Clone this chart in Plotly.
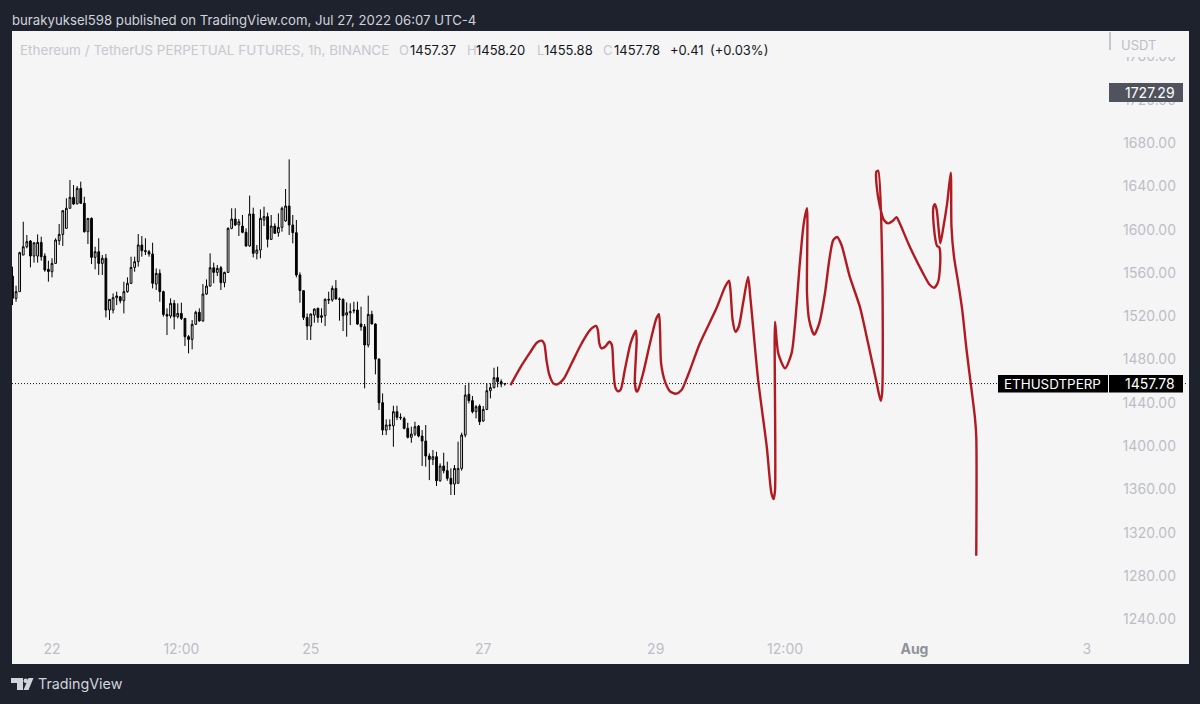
"""ETHUSDT 1h chart with a hand drawn projection, TradingView look."""
import plotly.graph_objects as go

C_FRAME = "#1e222d"
C_PANEL = "#f5f5f5"
C_AXIS = "#bcbec5"
C_RED = "#b01b22"
FONT = "Inter, Roboto, sans-serif"

# hours since Jul 22 00:00
bar_hours = list(range(-11, 127))
opens = [
    1557.1, 1536.5, 1542.7, 1576.5, 1584.2, 1589.5, 1575.6, 1575.6, 1588.2, 1575.6,
    1563.3, 1561.1, 1568.8, 1589.8, 1595.6, 1601.2, 1619.7, 1629.8, 1623.7, 1638.1,
    1624.3, 1598.1, 1610.4, 1574.4, 1579.6, 1568.8, 1573.5, 1525.7, 1525.7, 1537.1,
    1538.0, 1534.3, 1542.7, 1550.4, 1565.1, 1570.4, 1585.8, 1579.6, 1579.6, 1577.5,
    1549.7, 1559.6, 1542.7, 1521.7, 1520.2, 1531.9, 1519.6, 1522.6, 1518.0, 1501.1,
    1498.6, 1512.5, 1523.6, 1515.6, 1540.5, 1547.9, 1564.8, 1560.5, 1564.8, 1551.0,
    1560.5, 1601.2, 1609.8, 1604.3, 1603.3, 1597.5, 1584.9, 1614.4, 1578.1, 1581.2,
    1608.9, 1612.0, 1591.0, 1603.3, 1597.2, 1602.1, 1608.0, 1621.8, 1604.3, 1597.2,
    1558.1, 1543.6, 1518.9, 1510.9, 1521.1, 1527.3, 1518.9, 1520.5, 1535.6, 1535.0,
    1545.7, 1535.9, 1535.6, 1521.1, 1523.2, 1525.7, 1525.7, 1512.8, 1510.3, 1493.4,
    1521.7, 1512.8, 1480.4, 1440.1, 1414.8, 1418.8, 1418.8, 1431.8, 1426.6, 1425.6,
    1416.4, 1408.1, 1411.1, 1418.5, 1409.3, 1404.7, 1390.8, 1387.7, 1390.2, 1368.0,
    1381.6, 1377.3, 1370.2, 1364.9, 1365.6, 1379.4, 1410.2, 1447.8, 1442.0, 1431.8,
    1437.0, 1423.2, 1433.9, 1451.2, 1454.0, 1463.2, 1459.5, 1457.37,
]
highs = [
    1565.8, 1548.2, 1579.6, 1607.3, 1595.0, 1590.4, 1587.9, 1595.6, 1593.5, 1578.1,
    1571.3, 1573.5, 1592.0, 1605.2, 1618.1, 1628.9, 1645.8, 1641.2, 1640.3, 1644.3,
    1630.4, 1610.4, 1611.3, 1584.2, 1592.0, 1576.5, 1577.5, 1535.6, 1541.1, 1542.7,
    1538.7, 1551.9, 1555.9, 1575.0, 1575.0, 1595.9, 1594.1, 1592.0, 1581.2, 1587.9,
    1564.2, 1563.3, 1543.6, 1527.3, 1536.5, 1535.0, 1531.9, 1532.5, 1518.0, 1502.6,
    1516.5, 1525.1, 1527.3, 1549.7, 1554.0, 1578.1, 1569.5, 1567.3, 1566.4, 1561.1,
    1602.1, 1619.7, 1619.7, 1609.8, 1613.5, 1601.2, 1631.4, 1620.3, 1585.8, 1618.7,
    1621.2, 1615.7, 1613.5, 1605.8, 1615.0, 1621.2, 1637.5, 1664.9, 1613.5, 1608.9,
    1560.5, 1544.2, 1522.6, 1522.6, 1527.3, 1527.9, 1527.3, 1536.5, 1542.7, 1548.2,
    1553.4, 1537.4, 1536.5, 1532.8, 1531.9, 1533.4, 1533.4, 1528.8, 1512.8, 1539.0,
    1525.1, 1513.4, 1481.0, 1448.7, 1424.7, 1424.7, 1437.3, 1437.3, 1430.2, 1427.2,
    1421.6, 1417.9, 1422.5, 1419.5, 1414.8, 1419.5, 1393.3, 1396.4, 1394.8, 1384.0,
    1393.9, 1385.6, 1379.4, 1382.5, 1404.1, 1412.4, 1456.4, 1458.6, 1446.3, 1437.9,
    1438.6, 1437.0, 1458.0, 1458.0, 1472.4, 1473.4, 1461.7, 1458.20,
]
lows = [
    1530.3, 1533.4, 1542.7, 1576.5, 1582.7, 1565.1, 1569.5, 1569.5, 1571.3, 1561.1,
    1551.9, 1555.9, 1568.8, 1585.8, 1584.9, 1601.2, 1619.7, 1622.7, 1623.7, 1623.7,
    1597.2, 1586.7, 1568.2, 1563.3, 1558.1, 1558.1, 1518.9, 1516.5, 1522.6, 1530.3,
    1531.9, 1522.6, 1541.7, 1549.7, 1561.1, 1565.8, 1575.0, 1576.5, 1575.0, 1545.7,
    1544.2, 1533.4, 1519.6, 1502.6, 1518.0, 1507.9, 1518.0, 1516.5, 1492.5, 1485.7,
    1489.4, 1511.9, 1515.0, 1515.0, 1539.6, 1547.3, 1550.4, 1557.1, 1544.2, 1546.7,
    1560.2, 1600.3, 1603.3, 1594.1, 1596.6, 1584.2, 1584.2, 1574.4, 1572.5, 1573.5,
    1603.3, 1583.6, 1590.4, 1596.0, 1593.5, 1598.1, 1607.3, 1595.0, 1587.3, 1555.9,
    1532.5, 1516.5, 1498.0, 1498.0, 1514.0, 1514.0, 1514.0, 1510.9, 1531.3, 1533.4,
    1535.6, 1515.9, 1506.3, 1501.1, 1511.9, 1522.6, 1511.9, 1506.6, 1453.3, 1491.2,
    1512.5, 1466.3, 1433.3, 1410.2, 1410.2, 1414.8, 1399.4, 1424.1, 1424.1, 1415.5,
    1407.1, 1403.1, 1409.3, 1408.1, 1381.6, 1381.0, 1368.6, 1382.5, 1363.1, 1367.1,
    1374.8, 1368.0, 1354.8, 1354.8, 1365.6, 1377.3, 1408.1, 1439.5, 1430.2, 1425.6,
    1419.5, 1422.5, 1433.3, 1444.1, 1453.3, 1454.3, 1454.3, 1455.88,
]
closes = [
    1536.5, 1542.7, 1578.7, 1584.2, 1588.9, 1575.6, 1587.9, 1588.2, 1575.0, 1562.7,
    1561.4, 1568.8, 1590.4, 1595.6, 1617.5, 1619.7, 1629.8, 1623.7, 1638.1, 1624.3,
    1598.1, 1610.4, 1574.4, 1579.6, 1568.8, 1573.5, 1525.7, 1535.6, 1537.1, 1538.7,
    1534.3, 1542.7, 1550.4, 1565.1, 1570.4, 1585.8, 1580.5, 1580.5, 1577.5, 1550.4,
    1559.6, 1542.7, 1521.7, 1520.2, 1531.9, 1519.6, 1522.6, 1518.0, 1501.1, 1498.6,
    1512.5, 1523.6, 1515.6, 1540.5, 1547.9, 1564.8, 1560.5, 1564.2, 1551.0, 1560.5,
    1601.2, 1609.8, 1604.3, 1607.3, 1597.5, 1584.9, 1614.4, 1578.1, 1581.2, 1610.4,
    1612.0, 1591.0, 1603.3, 1596.6, 1602.1, 1619.7, 1621.8, 1604.3, 1597.2, 1558.1,
    1543.6, 1518.9, 1510.9, 1522.0, 1526.6, 1518.9, 1520.5, 1535.6, 1535.0, 1545.7,
    1535.9, 1535.6, 1520.5, 1523.2, 1524.2, 1525.1, 1512.8, 1510.3, 1493.4, 1521.7,
    1512.8, 1480.4, 1440.1, 1414.8, 1419.5, 1419.5, 1431.8, 1426.6, 1426.2, 1416.4,
    1408.1, 1411.1, 1417.9, 1409.3, 1404.7, 1390.8, 1387.7, 1390.2, 1368.0, 1381.6,
    1377.3, 1370.2, 1364.9, 1379.4, 1379.4, 1410.2, 1447.2, 1442.0, 1431.8, 1436.4,
    1422.5, 1433.9, 1451.2, 1454.0, 1463.2, 1459.5, 1457.3, 1457.78,
]

# the red drawing, goes back on itself near the end so order matters
sketch_hours = [
    127.6, 130.2, 133.0, 134.9, 136.3, 137.0, 137.6, 138.4, 139.5, 140.6, 142.3, 144.6,
    147.4, 149.7, 151.4, 151.9, 152.3, 152.9, 153.9, 155.1, 155.8, 156.2, 156.7, 157.4,
    158.2, 159.4, 161.0, 162.5, 162.7, 162.2, 162.7, 163.1, 164.5, 166.4, 168.2, 168.9,
    169.2, 169.5, 170.6, 171.9, 173.6, 175.2, 177.0, 180.3, 184.9, 187.3, 188.4, 188.8,
    189.4, 190.2, 191.1, 192.3, 193.7, 194.4, 196.5, 198.9, 200.2, 200.8, 201.2, 201.2,
    202.1, 204.0, 205.8, 206.7, 208.1, 209.2, 210.1, 210.1, 210.7, 212.1, 213.5, 215.1,
    216.3, 217.4, 218.5, 219.7, 222.0, 224.8, 227.1, 229.5, 230.6, 231.0, 231.0, 229.9,
    229.4, 229.5, 230.4, 231.5, 232.7, 233.9, 235.0, 235.9, 238.7, 242.4, 244.3, 245.5,
    246.6, 247.2, 246.9, 246.3, 245.4, 245.3, 245.7, 246.2, 246.8, 247.2, 248.0, 249.1,
    250.1, 250.3, 251.0, 252.2, 253.3, 254.5, 255.9, 256.8, 257.2, 257.2,
]
sketch_prices = [
    1456.4, 1471.9, 1486.3, 1495.5, 1497.4, 1494.3, 1479.5, 1465.7, 1458.0, 1457.1, 1461.7, 1476.5,
    1495.0, 1507.2, 1511.0, 1507.2, 1495.0, 1490.3, 1491.8, 1496.4, 1493.4, 1473.3, 1454.9, 1450.9,
    1451.8, 1470.3, 1495.0, 1506.6, 1498.0, 1458.0, 1450.3, 1451.8, 1467.3, 1495.0, 1518.1, 1521.8,
    1507.2, 1476.5, 1459.5, 1450.9, 1448.4, 1451.8, 1465.7, 1495.0, 1527.3, 1547.2, 1552.8, 1544.2,
    1516.5, 1505.7, 1510.3, 1531.9, 1556.2, 1535.0, 1461.1, 1399.4, 1356.4, 1351.1, 1359.4, 1514.9,
    1485.7, 1471.9, 1485.7, 1510.3, 1568.9, 1605.8, 1619.7, 1541.2, 1516.5, 1502.9, 1513.4, 1541.2,
    1571.9, 1590.4, 1593.2, 1585.8, 1556.5, 1528.8, 1495.0, 1458.0, 1441.9, 1448.8, 1571.9, 1654.4,
    1653.5, 1639.6, 1621.2, 1608.9, 1605.8, 1607.9, 1611.4, 1605.8, 1584.2, 1559.6, 1548.8, 1546.3,
    1551.9, 1571.9, 1583.6, 1584.8, 1602.7, 1621.2, 1623.6, 1618.1, 1598.1, 1587.3, 1601.2, 1624.3,
    1652.6, 1602.7, 1575.0, 1550.4, 1525.7, 1488.8, 1451.8, 1427.2, 1408.7, 1298.8,
]

last_close = 1457.78
price_ticks = [1240, 1280, 1320, 1360, 1400, 1440, 1480, 1520, 1560, 1600, 1640, 1680, 1720, 1760]
time_ticks = [0, 36, 72, 120, 168, 204, 240, 288]
time_labels = ["22", "12:00", "25", "27", "29", "12:00", "<b><span style='color:#8f929b'>Aug</span></b>", "3"]


def px(x):
    return (x - 12) / 1177


def py(y):
    return (664 - y) / 633


def box(x0, y0, x1, y1, color):
    return dict(
        type="rect", xref="paper", yref="paper", layer="above", line_width=0, fillcolor=color,
        x0=px(x0), x1=px(x1), y0=py(y0), y1=py(y1),
    )


def label(x, y, text, size=13, color=C_AXIS, anchor="left"):
    return dict(
        xref="paper", yref="paper", x=px(x), y=py(y), text=text, showarrow=False,
        xanchor=anchor, yanchor="middle", font=dict(size=size, color=color, family=FONT),
    )


def cover(x0, y0, x1, y1, color):
    # tick labels sit above shapes, only an annotation can hide them
    return dict(
        xref="paper", yref="paper", x=px(x0), y=py(y0), text="\u00a0", showarrow=False,
        xanchor="left", yanchor="top", width=x1 - x0, height=y1 - y0,
        bgcolor=color, borderpad=0, borderwidth=0,
    )


fig = go.Figure()
fig.add_trace(go.Scatter(
    x=[-11.13, 316], y=[last_close, last_close], mode="lines",
    line=dict(color="#131722", width=1, dash="1px,2px"), hoverinfo="skip",
))
fig.add_trace(go.Candlestick(
    x=bar_hours, open=opens, high=highs, low=lows, close=closes,
    increasing=dict(line=dict(color="#000000", width=1), fillcolor="#ffffff"),
    decreasing=dict(line=dict(color="#000000", width=1), fillcolor="#000000"),
))
fig.add_trace(go.Scatter(
    x=sketch_hours, y=sketch_prices, mode="lines",
    line=dict(color=C_RED, width=2.4, shape="spline", smoothing=0.7), hoverinfo="skip",
))

logo = "M {} {} L {} {} L {} {} L {} {} L {} {} L {} {} Z".format(
    px(11), py(678), px(23), py(678), px(23), py(690), px(17), py(690), px(17), py(683), px(11), py(683),
)
slash = "M {} {} L {} {} L {} {} L {} {} Z".format(
    px(28.5), py(678), px(33.5), py(678), px(28.5), py(690), px(23.5), py(690),
)

shapes = [
    box(1109.5, 32, 1110.5, 50, "#9598a1"),
    box(998, 375, 1108, 392.5, "#000000"),
    box(1109, 375, 1183, 392.5, "#000000"),
    dict(type="path", xref="paper", yref="paper", path=logo, fillcolor="#d1d4dc", line_width=0, layer="above"),
    dict(type="path", xref="paper", yref="paper", path=slash, fillcolor="#d1d4dc", line_width=0, layer="above"),
    dict(
        type="circle", xref="paper", yref="paper", fillcolor="#d1d4dc", line_width=0, layer="above",
        x0=px(23.5), x1=px(28), y0=py(683), y1=py(678.5),
    ),
]

annotations = [
    cover(1111, 31, 1189, 57, C_PANEL),
    cover(1109, 83, 1183, 101.5, "#50535e"),
    label(10, 20, "burakyuksel598 published on TradingView.com, Jul 27, 2022 06:07 UTC-4", size=13.2, color="#d1d4dc"),
    label(18, 50, "Ethereum / TetherUS PERPETUAL FUTURES, 1h, BINANCE", size=13.5, color="#c6c8ce"),
    label(397, 50, "O", color="#c6c8ce"),
    label(408, 50, "1457.37", color="#131722"),
    label(465, 50, "H", color="#c6c8ce"),
    label(474, 50, "1458.20", color="#131722"),
    label(535, 50, "L", color="#c6c8ce"),
    label(542, 50, "1455.88", color="#131722"),
    label(601, 50, "C", color="#c6c8ce"),
    label(612, 50, "1457.78", color="#131722"),
    label(668, 50, "+0.41", color="#131722"),
    label(708, 50, "(+0.03%)", color="#131722"),
    label(1119, 45, "USDT", color=C_AXIS),
    label(1177, 92, "1727.29", size=14, color="#ffffff", anchor="right"),
    label(1002, 384, "ETHUSDTPERP", size=13.4, color="#ffffff"),
    label(1177, 384, "1457.78", size=14, color="#ffffff", anchor="right"),
    label(36, 684, "TradingView", size=14.3, color="#d1d4dc"),
]

fig.update_layout(
    width=1200,
    height=704,
    margin=dict(l=12, r=11, t=31, b=40),
    paper_bgcolor=C_FRAME,
    plot_bgcolor=C_PANEL,
    showlegend=False,
    shapes=shapes,
    annotations=annotations,
    font=dict(family=FONT, size=14, color=C_AXIS),
    xaxis=dict(
        range=[-11.13, 316.4],
        tickvals=time_ticks,
        ticktext=time_labels,
        ticklabelposition="inside",
        ticklabelstandoff=4,
        tickfont=dict(color=C_AXIS),
        ticks="",
        showgrid=False,
        zeroline=False,
        showline=False,
        rangeslider=dict(visible=False),
    ),
    yaxis=dict(
        side="right",
        range=[1198.7, 1783.5],
        tickvals=price_ticks,
        tickformat=".2f",
        ticklabelposition="inside",
        ticklabelstandoff=10,
        tickfont=dict(color=C_AXIS),
        ticks="",
        showgrid=False,
        zeroline=False,
        showline=False,
    ),
)

fig.write_html(
    "out.html",
    config={"displayModeBar": False},
    post_script="document.body.style.margin='0';document.body.style.background='" + C_FRAME + "';",
)
